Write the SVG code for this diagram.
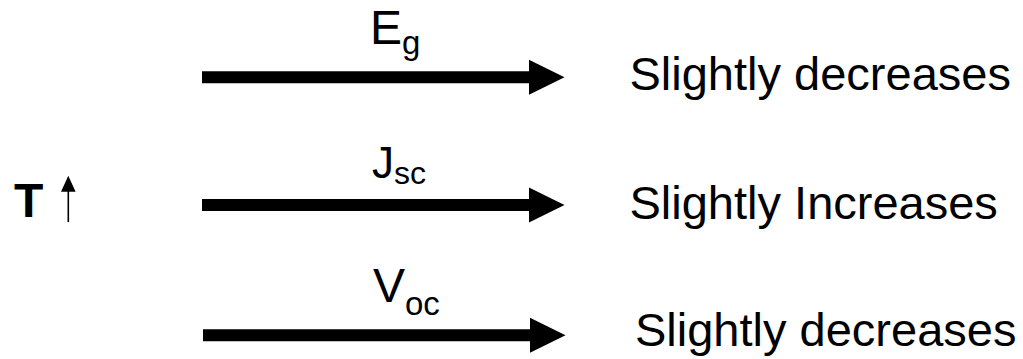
<svg xmlns="http://www.w3.org/2000/svg" width="1023" height="359" viewBox="0 0 1023 359">
<style>
text { font-family: "Liberation Sans", Arial, sans-serif; fill: #000; }
.big { font-size: 47px; }
.lbl { font-size: 48px; }
.sub { font-size: 33px; }
.shaft { stroke: #000; stroke-width: 12; fill: none; marker-end: url(#ah); }
</style>
<defs>
<marker id="ah" markerUnits="userSpaceOnUse" markerWidth="36" markerHeight="36" refX="0" refY="18" orient="auto" viewBox="0 0 36 36">
<path d="M0,0.5 L35.5,18 L0,35.5 z" fill="#000"/>
</marker>
</defs>
<rect width="1023" height="359" fill="#fff"/>
<g id="temperature">
<text x="14" y="217" font-size="48" font-weight="bold">T</text>
<line x1="68.3" y1="222" x2="68.3" y2="190" stroke="#000" stroke-width="1.6"/>
<polygon points="61,191.7 68.3,175.7 75.6,191.7" fill="#000"/>
</g>
<g id="connectors">
<path class="shaft" d="M202,77.3 H529"/>
<path class="shaft" d="M202,204.9 H529"/>
<path class="shaft" d="M203,335.3 H530"/>
</g>
<g id="label-eg"><text x="370" y="43.7" class="lbl">E<tspan class="sub" dy="10">g</tspan></text></g>
<g id="label-jsc"><text x="372" y="178" style="font-size:44px">J<tspan style="font-size:32px" dy="6">sc</tspan></text></g>
<g id="label-voc"><text x="373" y="301.7" class="lbl">V<tspan class="sub" dy="13">oc</tspan></text></g>
<g id="result-eg"><text x="629.5" y="90" class="big">Slightly decreases</text></g>
<g id="result-jsc"><text x="629.5" y="219" class="big">Slightly Increases</text></g>
<g id="result-voc"><text x="635" y="346" class="big">Slightly decreases</text></g>
</svg>
